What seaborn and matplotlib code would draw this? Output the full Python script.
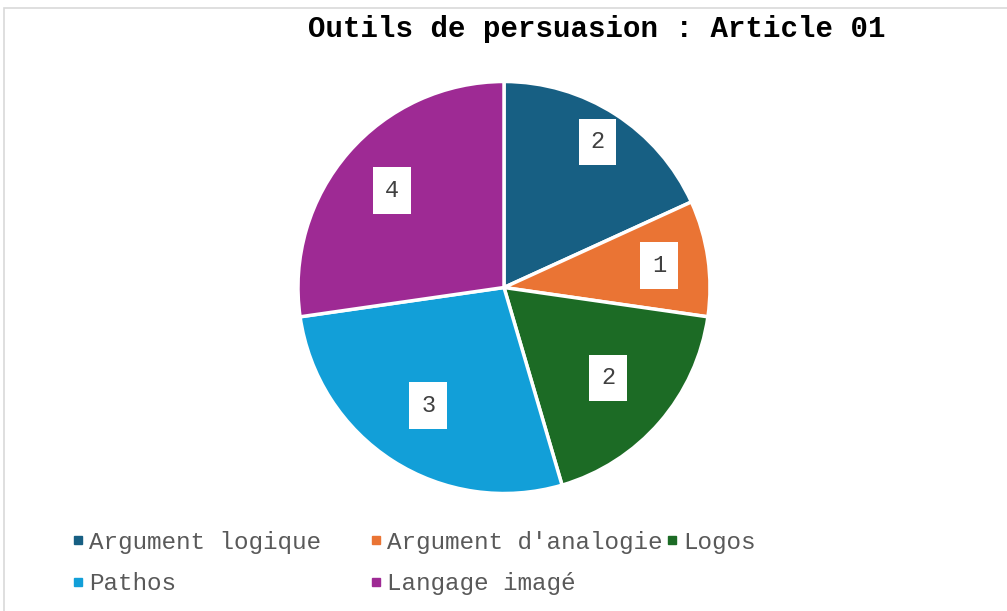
import matplotlib
matplotlib.use('Agg')
import numpy as np
import matplotlib.pyplot as plt
import seaborn as sns
from matplotlib.lines import Line2D
from matplotlib.patches import Rectangle

# donnees du graphique
categories = ['Argument logique', "Argument d'analogie", 'Logos', 'Pathos', 'Langage imagé']
valeurs = [2, 1, 2, 3, 3]          # taille des parts
etiquettes = ['2', '1', '2', '3', '4']  # etiquettes affichees
couleurs = ['#175F83', '#EA7434', '#1C6B25', '#129FD8', '#9E2A94']
titre = 'Outils de persuasion : Article 01'

# mise en page
dist_etiquettes = [0.84, 0.76, 0.67, 0.68, 0.72]
colonnes_legende = [[0, 3], [1, 4], [2]]
x_colonnes = [72, 370, 666]

sns.set_theme(style='white')
plt.rcParams['font.family'] = ['Liberation Mono', 'DejaVu Sans']

W, H = 1007, 611
fig = plt.figure(figsize=(W / 100, H / 100), dpi=100)

# cadre gris autour du graphique
fig.patches.append(Rectangle((4 / W, -0.5), 2, 1.5 - 8 / H, transform=fig.transFigure,
                             fill=False, edgecolor='#D9D9D9', lw=1.2))

cx, cy, r = 504, 287.5, 206
ax = fig.add_axes([(cx - r) / W, (H - cy - r) / H, 2 * r / W, 2 * r / H])
palette = sns.color_palette(couleurs)
wedges, _ = ax.pie(valeurs, colors=palette, startangle=90, counterclock=False,
                   wedgeprops=dict(edgecolor='white', linewidth=2.5))
for w, lab, d in zip(wedges, etiquettes, dist_etiquettes):
    ang = np.deg2rad((w.theta1 + w.theta2) / 2)
    ax.text(d * np.cos(ang), d * np.sin(ang), lab, ha='center', va='center',
            fontsize=17, color='#404040',
            bbox=dict(facecolor='white', edgecolor='none', boxstyle='square,pad=0.5'))
ax.set_xlim(-1, 1)
ax.set_ylim(-1, 1)
ax.axis('off')

fig.text(597 / W, 1 - 29 / H, titre, ha='center', va='center',
         fontsize=21, fontweight='bold', color='black')

# legende : une colonne a la fois pour garder les positions d'Excel
handles = [Line2D([], [], marker='s', linestyle='none', markersize=5.5,
                  markerfacecolor=c, markeredgecolor=c) for c in couleurs]
for idx, x in zip(colonnes_legende, x_colonnes):
    leg = fig.legend([handles[i] for i in idx], [categories[i] for i in idx],
                     loc='upper left', bbox_to_anchor=(x / W, 1 - 531 / H),
                     frameon=False, fontsize=17.5, handlelength=0.5, handletextpad=0.2,
                     labelspacing=0.76, borderaxespad=0, borderpad=0)
    for t in leg.get_texts():
        t.set_color('#595959')

fig.savefig('out.png', dpi=100)
